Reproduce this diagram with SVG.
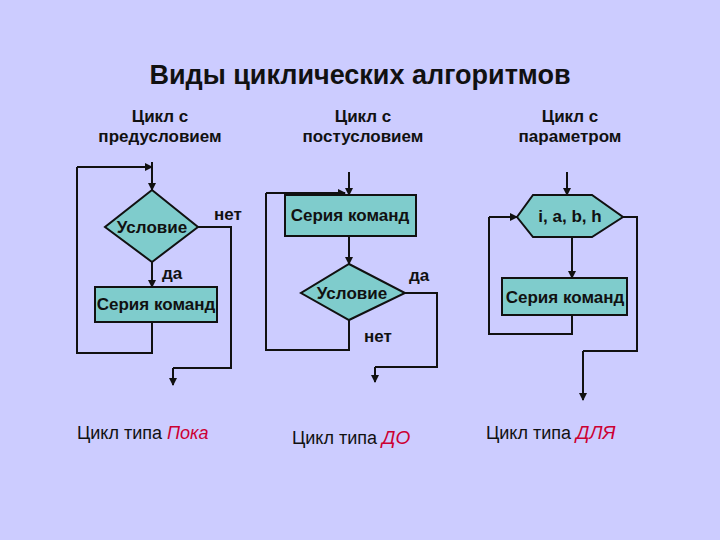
<svg xmlns="http://www.w3.org/2000/svg" width="720" height="540" viewBox="0 0 720 540">
<style>
text{font-family:"Liberation Sans",Arial,sans-serif;fill:#111}
.sh{fill:#7fcccc;stroke:#111;stroke-width:2}
.ln{fill:none;stroke:#111;stroke-width:2;marker-end:url(#a)}
.l0{fill:none;stroke:#111;stroke-width:2}
.h{font-size:17px;font-weight:bold;text-anchor:middle}
.t{font-size:17px;font-weight:bold;text-anchor:middle}
.r{fill:#cc0033;font-style:italic}
.b{font-size:18px}
</style>
<defs><marker id="a" markerWidth="8" markerHeight="8" refX="7" refY="4" orient="auto" markerUnits="userSpaceOnUse"><path d="M0,0L8,4L0,8z" fill="#111"/></marker></defs>
<rect width="720" height="540" fill="#ccccff"/>
<text x="360" y="84" font-size="27" font-weight="bold" text-anchor="middle" fill="#1a1a40">Виды циклических алгоритмов</text>
<text class="h" x="160" y="122">Цикл с</text><text class="h" x="160" y="142">предусловием</text>
<text class="h" x="363" y="122">Цикл с</text><text class="h" x="363" y="142">постусловием</text>
<text class="h" x="570" y="122">Цикл с</text><text class="h" x="570" y="142">параметром</text>
<g id="connectors">
<path class="ln" d="M152,162V190"/>
<path class="l0" d="M198,227H231V368H173"/><path class="ln" d="M173,368V385"/>
<path class="ln" d="M152,262V287"/>
<path class="l0" d="M152,322V353H77V167"/><path class="ln" d="M77,167H152"/>
<path class="ln" d="M349,172V195"/>
<path class="ln" d="M349,236V264"/>
<path class="l0" d="M405,293H437V367H375"/><path class="ln" d="M375,367V382"/>
<path class="l0" d="M349,320V350H266V193"/><path class="ln" d="M266,193H345"/>
<path class="ln" d="M567,172V195"/>
<path class="ln" d="M572,237V278"/>
<path class="l0" d="M572,315V334H489V217"/><path class="ln" d="M489,217H517"/>
<path class="l0" d="M623,217H637V351H583"/><path class="ln" d="M583,351V400"/>
</g>
<g id="n1"><polygon class="sh" points="152,190 198,227 152,262 105,227"/><text class="t" x="152" y="233">Условие</text></g>
<g id="n2"><rect class="sh" x="95" y="287" width="122" height="35"/><text class="t" x="156" y="310">Серия команд</text></g>
<g id="n3"><rect class="sh" x="285" y="195" width="131" height="41"/><text class="t" x="350" y="221">Серия команд</text></g>
<g id="n4"><polygon class="sh" points="349,264 405,293 349,320 301,293"/><text class="t" x="352" y="299">Условие</text></g>
<g id="n5"><polygon class="sh" points="517,217 533,195 592,195 623,217 592,237 533,237"/><text class="t" x="570" y="222">i, a, b, h</text></g>
<g id="n6"><rect class="sh" x="502" y="278" width="125" height="37"/><text class="t" x="565" y="303">Серия команд</text></g>
<text class="t" x="228" y="220">нет</text><text class="t" x="172" y="279">да</text>
<text class="t" x="419" y="281">да</text><text class="t" x="378" y="342">нет</text>
<text class="b" x="77" y="439">Цикл типа <tspan class="r">Пока</tspan></text>
<text class="b" x="292" y="444">Цикл типа  <tspan class="r" font-size="19">ДО</tspan></text>
<text class="b" x="486" y="439">Цикл типа  <tspan class="r" font-size="19">ДЛЯ</tspan></text>
</svg>
